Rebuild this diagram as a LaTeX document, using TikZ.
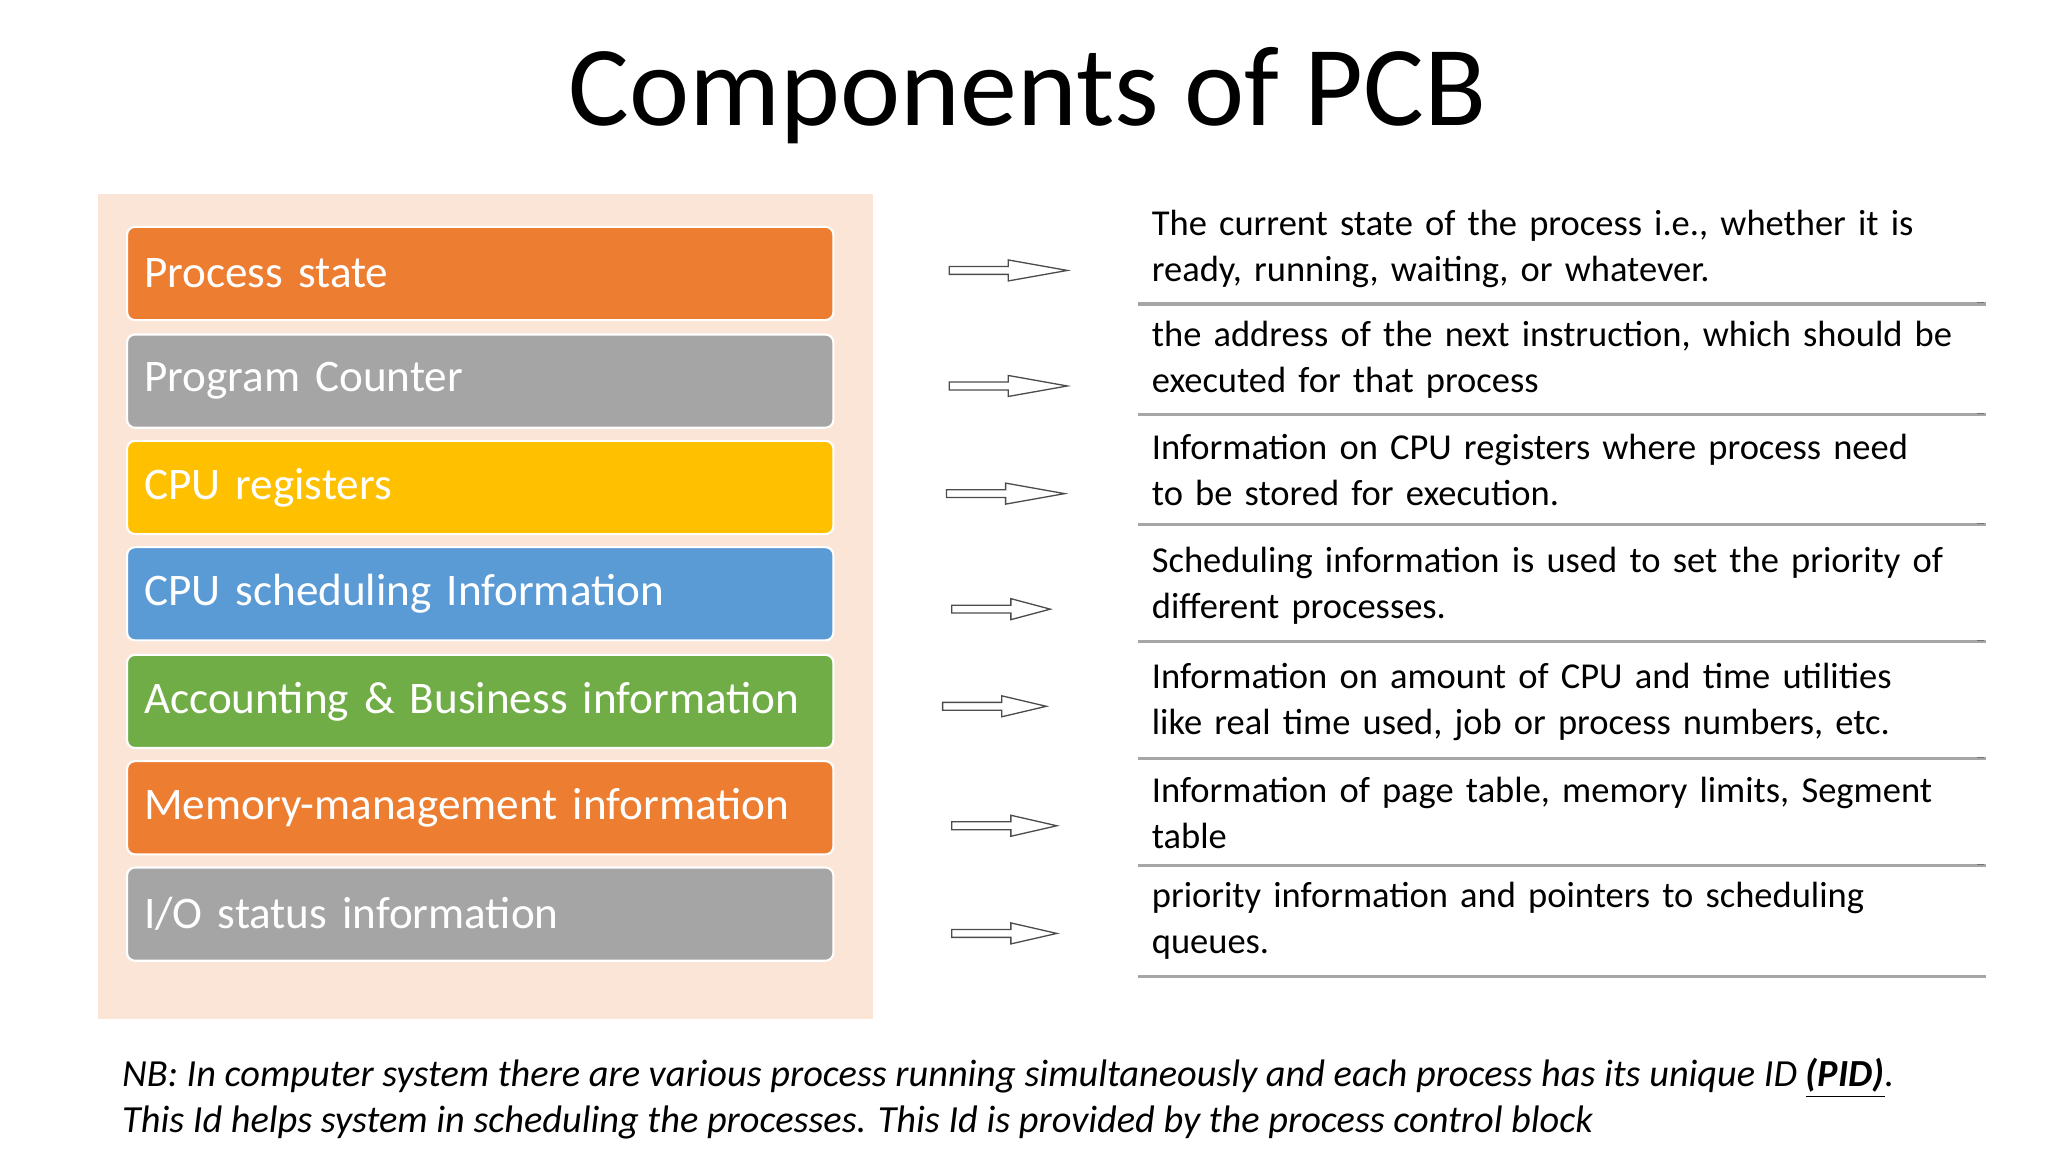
\documentclass[tikz,border=0pt]{standalone}
\usepackage{fontspec}
\setmainfont{Carlito}
\begin{document}
\begin{tikzpicture}[x=0.5pt,y=-0.5pt,
  lbox/.style={draw=white,line width=0.8pt,rounded corners=3pt,minimum width=269pt,minimum height=35.5pt,anchor=north west,text=white,font=\fontsize{17.2}{19}\selectfont,align=left,inner xsep=6.5pt,text width=256pt},
  rbox/.style={fill=white,anchor=north west,minimum width=321.5pt,text width=312pt,inner xsep=6pt,align=left,font=\fontsize{13.9}{17.6}\selectfont},
  harrow/.style={draw=black!70,line width=0.5pt,fill=white}]
\useasboundingbox (0,0) rectangle (1560,877.5);
\node[font=\fontsize{43.4}{46}\selectfont] (title) at (783,73) {Components of PCB};
\fill[fill={rgb,255:red,251;green,229;blue,214}] (75,148) rectangle (665,776);
\definecolor{corange}{HTML}{ED7D31}\definecolor{cgray}{HTML}{A5A5A5}
\definecolor{cyellow}{HTML}{FFC000}\definecolor{cblue}{HTML}{5B9BD5}\definecolor{cgreen}{HTML}{70AD47}
\node[lbox,fill=corange] (b1) at (96,172) {Process state};
\node[lbox,fill=cgray] (b2) at (96,254) {Program Counter};
\node[lbox,fill=cyellow] (b3) at (96,335) {CPU registers};
\node[lbox,fill=cblue] (b4) at (96,416) {CPU scheduling Information};
\node[lbox,fill=cgreen] (b5) at (96,498) {Accounting \& Business information};
\node[lbox,fill=corange] (b6) at (96,579) {Memory-management information};
\node[lbox,fill=cgray] (b7) at (96,660) {I/O status information};
\foreach \ya/\yb in {148/230,233/314,317/398,404/487,493/576,580/658,660/742}{
  \fill[black!35] (867,\ya+3) rectangle (1513,\yb+3);
  \fill[black!55] (1506,\ya+2) rectangle (1511,\yb+1);
}
\begin{scope}[every node/.append style={rbox}]
\node[minimum height=41pt] (r1) at (865,148) {\hyphenpenalty=10000 The current state of the process i.e., whether it is ready, running, waiting, or whatever.};
\node[minimum height=40.5pt] (r2) at (865,233) {\hyphenpenalty=10000 the address of the next instruction, which should be executed for that process};
\node[minimum height=40.5pt] (r3) at (865,317) {\hyphenpenalty=10000 Information on CPU registers where process need\\to be stored for execution.};
\node[minimum height=41.5pt] (r4) at (865,404) {\hyphenpenalty=10000 Scheduling information is used to set the priority of different processes.};
\node[minimum height=41.5pt] (r5) at (865,493) {\hyphenpenalty=10000 Information on amount of CPU and time utilities\\like real time used, job or process numbers, etc.};
\node[minimum height=39pt] (r6) at (865,580) {\hyphenpenalty=10000 Information of page table, memory limits, Segment\\table};
\node[minimum height=41pt] (r7) at (865,660) {\hyphenpenalty=10000 priority information and pointers to scheduling\\queues.};
\end{scope}
\foreach \xa/\xb/\y in {723/813/206,723/813/294,721/811/376,725/800/464,718/797/538,725/805/629,725/805/711}{
  \draw[harrow] (\xa,\y-3) -- (\xa+45,\y-3) -- (\xa+45,\y-8) -- (\xb,\y) -- (\xa+45,\y+8) -- (\xa+45,\y+3) -- (\xa,\y+3) -- cycle;
}
\node[anchor=west,font=\fontsize{14.6}{17.6}\selectfont\itshape,align=left] (nb) at (86,837) {NB: In computer system there are various process running simultaneously and each process has its unique ID \textbf{\underline{(PID)}}.\\This Id helps system in scheduling the processes. This Id is provided by the process control block};
\end{tikzpicture}
\end{document}
